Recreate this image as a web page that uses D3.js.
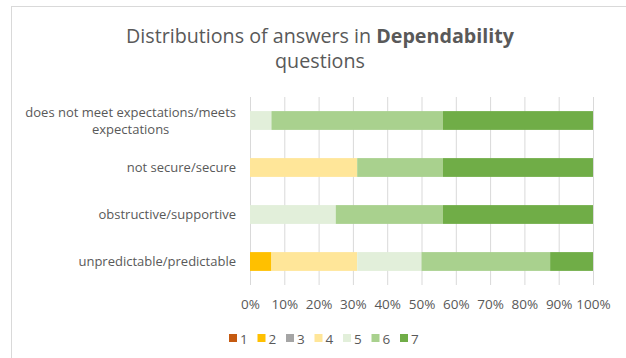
<!DOCTYPE html>
<html>
<head>
<meta charset="utf-8">
<script src="https://cdn.jsdelivr.net/npm/d3@7"></script>
<style>
  body { margin: 0; background: #fff; }
  text { font-family: "Open Sans", sans-serif; fill: #595959; }
</style>
</head>
<body>
<svg id="chart"></svg>
<script>
// chart data (percent of answers per level)
const categories = ['does not meet expectations/meets expectations', 'not secure/secure', 'obstructive/supportive', 'unpredictable/predictable'];
const levels = ['1', '2', '3', '4', '5', '6', '7'];
const level1 = [0, 0, 0, 0];
const level2 = [0, 0, 0, 6.25];
const level3 = [0, 0, 0, 0];
const level4 = [0, 31.25, 0, 25];
const level5 = [6.25, 0, 25, 18.75];
const level6 = [50, 25, 31.25, 37.5];
const level7 = [43.75, 43.75, 43.75, 12.5];
const ticks = [0, 10, 20, 30, 40, 50, 60, 70, 80, 90, 100];

const colors = ['#C55A11', '#FFC000', '#A5A5A5', '#FFE699', '#E2EFDA', '#A9D18E', '#70AD47'];

const w = 626;
const h = 358;

const svg = d3.select('#chart').attr('width', w).attr('height', h);

// outer chart frame
svg.append('rect')
    .attr('x', 11.5).attr('y', 6.5)
    .attr('width', w).attr('height', h)
    .attr('fill', 'none')
    .attr('stroke', '#d9d9d9');

// title, two lines in one text element
const title = svg.append('text')
    .attr('text-anchor', 'middle')
    .style('font-size', '19.7px');
const line1 = title.append('tspan').attr('x', 320).attr('y', 43);
line1.append('tspan').text('Distributions of answers in ');
line1.append('tspan').style('font-weight', 'bold').text('Dependability');
title.append('tspan').attr('x', 320).attr('y', 68).text('questions');

// build rows for stacking
const allLevels = [level1, level2, level3, level4, level5, level6, level7];
const rows = categories.map((c, i) => {
    const row = { cat: c };
    levels.forEach((l, j) => { row[l] = allLevels[j][i]; });
    return row;
});
const series = d3.stack().keys(levels)(rows);

const xScale = d3.scaleLinear().domain([0, 100]).range([250, 593]);
const yScale = d3.scaleBand().domain(categories).range([97, 285]).paddingInner(0.6).paddingOuter(0.3);

// gridlines
svg.append('g')
    .attr('transform', 'translate(0,285)')
    .call(d3.axisBottom(xScale).tickValues(ticks).tickSize(-188).tickFormat(''))
    .call(g => g.select('.domain').remove())
    .call(g => g.selectAll('line').attr('stroke', '#d9d9d9'));

// bars
svg.append('g')
    .selectAll('g')
    .data(series)
    .enter()
    .append('g')
    .attr('fill', (d, i) => colors[i])
    .selectAll('rect')
    .data(d => d)
    .enter()
    .append('rect')
    .attr('x', d => xScale(d[0]))
    .attr('width', d => xScale(d[1]) - xScale(d[0]))
    .attr('y', d => yScale(d.data.cat))
    .attr('height', yScale.bandwidth());

// x tick labels
svg.append('g')
    .attr('transform', 'translate(0,296)')
    .call(d3.axisBottom(xScale).tickValues(ticks).tickSize(0).tickFormat(d => d + '%'))
    .call(g => g.select('.domain').remove())
    .call(g => g.selectAll('text').style('font-size', '13.5px').attr('fill', '#595959'));

// category labels, wrapped like excel does
const wrapped = {
    'does not meet expectations/meets expectations': ['does not meet expectations/meets', 'expectations']
};
const catG = svg.append('g');
categories.forEach(c => {
    const cy = yScale(c) + yScale.bandwidth() / 2;
    const lines = wrapped[c] || [c];
    const t = catG.append('text').style('font-size', '13px');
    if (lines.length === 1) {
        t.attr('x', 236).attr('y', cy + 4.5).attr('text-anchor', 'end').text(c);
    } else {
        t.attr('text-anchor', 'middle');
        // centre second line under the first one
        const first = t.append('tspan').attr('y', cy - 4).text(lines[0]);
        const wid = first.node().getComputedTextLength();
        const mid = 236 - wid / 2;
        first.attr('x', mid);
        t.append('tspan').attr('x', mid).attr('y', cy + 13).text(lines[1]);
    }
});

// legend
const legend = svg.append('g').attr('transform', 'translate(229,334)');
const item = legend.selectAll('g')
    .data(levels)
    .enter()
    .append('g')
    .attr('transform', (d, i) => 'translate(' + (i * 28.5) + ',0)');
item.append('rect')
    .attr('width', 8).attr('height', 8)
    .attr('fill', (d, i) => colors[i]);
item.append('text')
    .attr('x', 11).attr('y', 9.5)
    .style('font-size', '13.5px')
    .text(d => d);
</script>
</body>
</html>
